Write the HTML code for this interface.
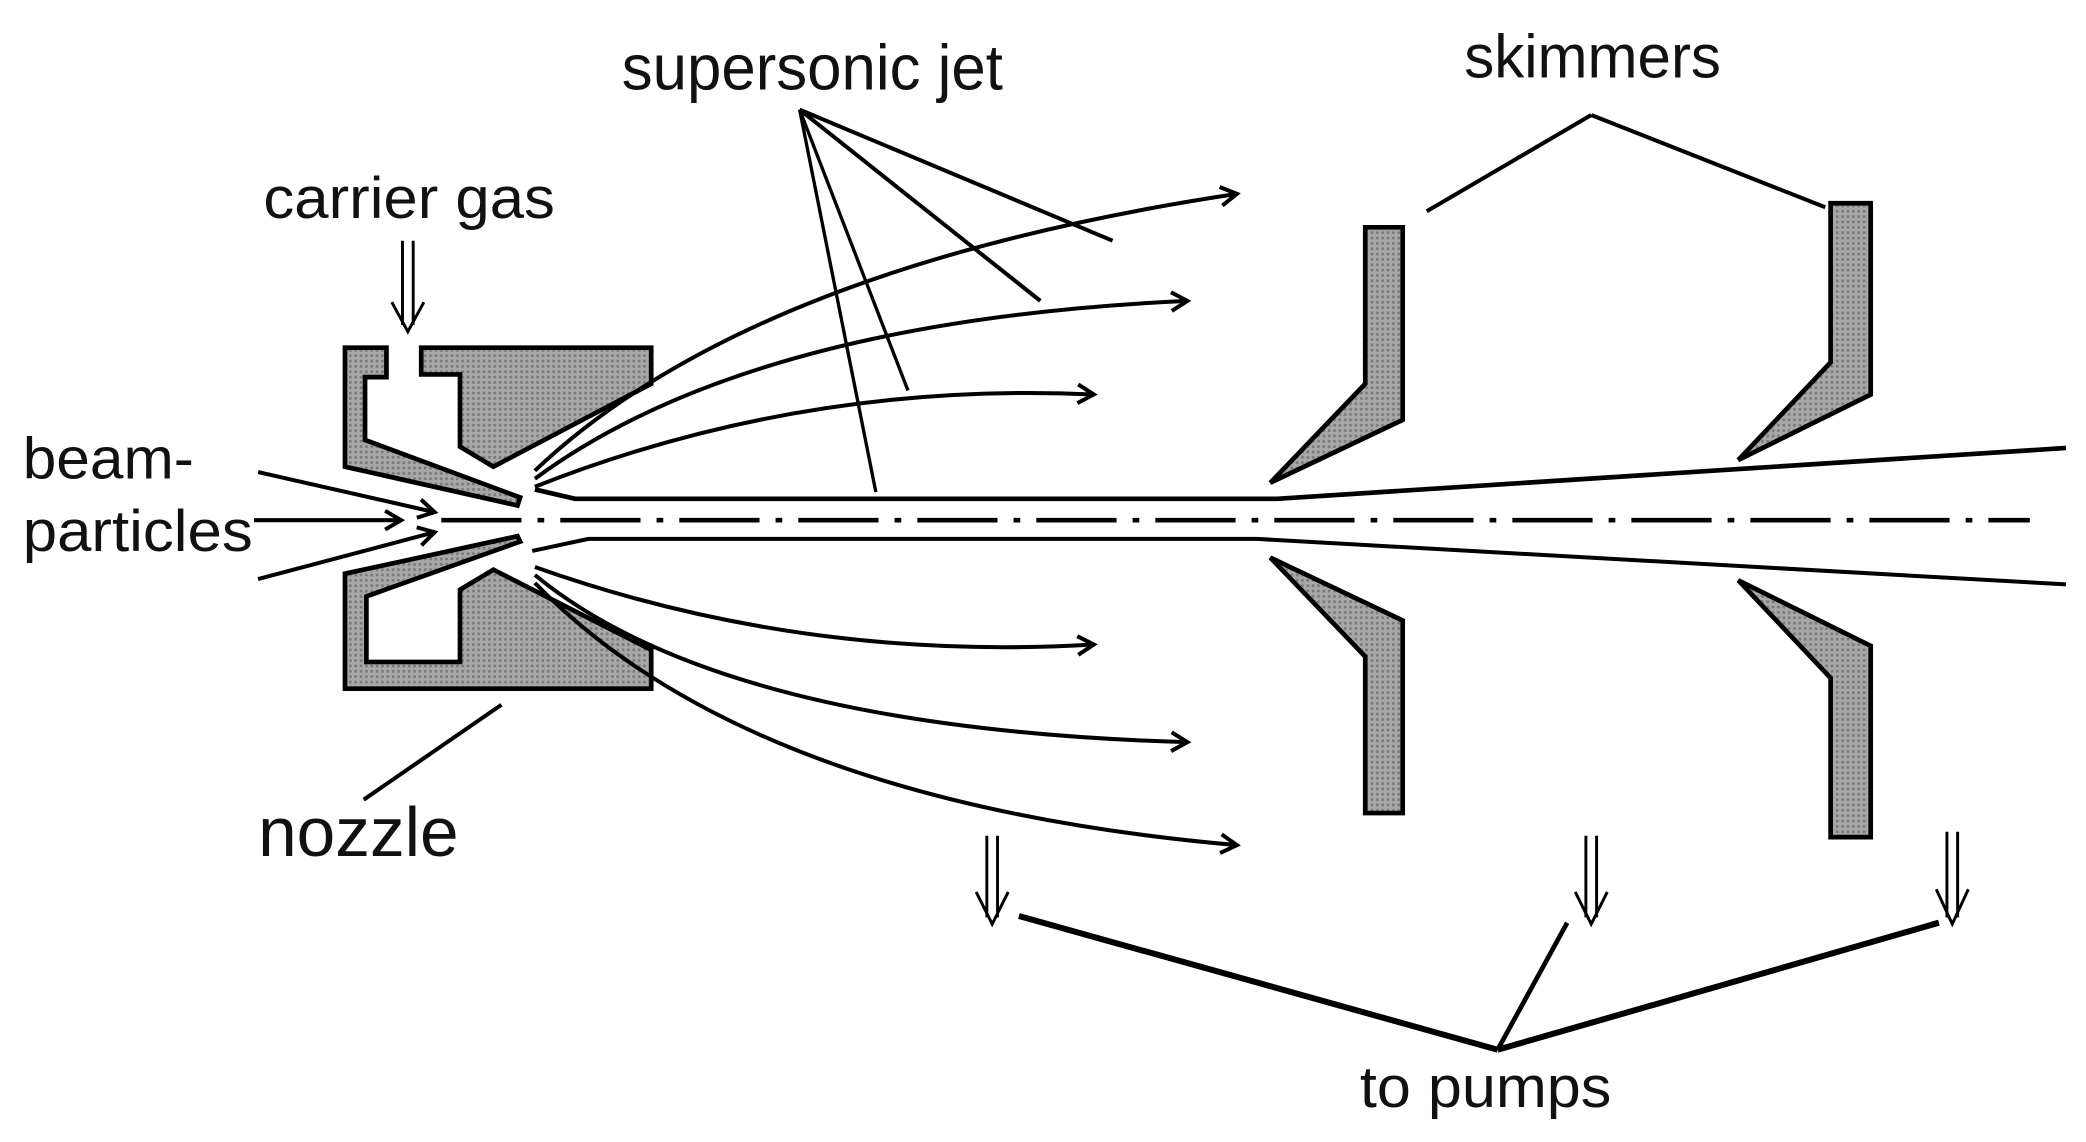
<!DOCTYPE html>
<html><head><meta charset="utf-8"><style>
html,body{margin:0;padding:0;background:#fff;}
svg{display:block;}
text{font-family:"Liberation Sans Narrow","Liberation Sans",sans-serif;fill:#111;}
</style></head><body>
<svg width="2086" height="1142" viewBox="0 0 1560 854" preserveAspectRatio="none" xmlns="http://www.w3.org/2000/svg">
<defs>
<pattern id="dots" width="4" height="4" patternUnits="userSpaceOnUse">
<rect width="4" height="4" fill="#a8a8a8"/><rect x="1" y="1" width="2" height="2" fill="#7a7a7a"/>
</pattern>
<marker id="ah" markerWidth="18" markerHeight="18" refX="15" refY="9" orient="auto" markerUnits="userSpaceOnUse">
<path d="M3,2 L15,9 L3,16" fill="none" stroke="#000" stroke-width="3"/>
</marker>
</defs>
<g stroke="#000" stroke-width="3.5" fill="url(#dots)" stroke-linejoin="miter">
<polygon points="258,260 289,260 289,282 273,282 273,329 389,372 387,378 258,349"/>
<polygon points="315,260 487,260 487,287 369,349 344,334 344,280 315,280"/>
<polygon points="258,515 487,515 487,486 369,426 344,441 344,495 274,495 274,446 389,405 387,401 258,429"/>
<polygon points="1021,170 1049,170 1049,314 950,361 1021,287"/>
<polygon points="1021,608 1049,608 1049,464 950,417 1021,491"/>
<polygon points="1369,152 1399,152 1399,295 1300,344 1369,271"/>
<polygon points="1369,626 1399,626 1399,483 1300,434 1369,507"/>
</g>
<g stroke="#000" fill="none">
<polyline points="400,366 430,373 955,373 1545,335" stroke-width="3.5"/>
<polyline points="398,412 440,403 940,403 1545,437" stroke-width="3"/>
<line x1="330" y1="389" x2="1518" y2="389" stroke-width="3.5" stroke-dasharray="60,12,5,12"/>
<line x1="193" y1="353" x2="325" y2="383" stroke-width="3" marker-end="url(#ah)"/>
<line x1="190" y1="389" x2="300" y2="389" stroke-width="3" marker-end="url(#ah)"/>
<line x1="193" y1="433" x2="325" y2="398" stroke-width="3" marker-end="url(#ah)"/>
<path d="M400,352 Q560,200 925,145" stroke-width="3" marker-end="url(#ah)"/>
<path d="M400,358 Q560,240 888,225" stroke-width="3" marker-end="url(#ah)"/>
<path d="M400,364 Q600,285 818,295" stroke-width="3" marker-end="url(#ah)"/>
<path d="M400,424 Q600,495 818,482" stroke-width="3" marker-end="url(#ah)"/>
<path d="M400,430 Q540,545 888,555" stroke-width="3" marker-end="url(#ah)"/>
<path d="M400,436 Q560,600 925,632" stroke-width="3" marker-end="url(#ah)"/>
<line x1="598" y1="82" x2="832" y2="180" stroke-width="3"/>
<line x1="598" y1="82" x2="778" y2="225" stroke-width="3"/>
<line x1="598" y1="82" x2="679" y2="292" stroke-width="2.5"/>
<line x1="598" y1="82" x2="655" y2="368" stroke-width="2.5"/>
<line x1="1190" y1="86" x2="1067" y2="158" stroke-width="3"/>
<line x1="1190" y1="86" x2="1365" y2="155" stroke-width="3"/>
<line x1="375" y1="527" x2="272" y2="598" stroke-width="3"/>
<line x1="1120" y1="785" x2="762" y2="685" stroke-width="4.5"/>
<line x1="1120" y1="785" x2="1172" y2="690" stroke-width="3.5"/>
<line x1="1120" y1="785" x2="1450" y2="690" stroke-width="4.5"/>
</g>
<g stroke="#000" fill="none" stroke-width="2.2">
<path d="M301,180 V243 M309,180 V243 M293,226 L305,248 L317,226"/>
<path d="M738,625 V686 M746,625 V686 M730,667 L742,691 L754,667"/>
<path d="M1186,625 V686 M1194,625 V686 M1178,667 L1190,691 L1202,667"/>
<path d="M1456,622 V686 M1464,622 V686 M1448,665 L1460,691 L1472,665"/>
</g>
<text x="465" y="67" font-size="48" textLength="285" lengthAdjust="spacingAndGlyphs">supersonic jet</text>
<text x="1095" y="58" font-size="46" textLength="192" lengthAdjust="spacingAndGlyphs">skimmers</text>
<text x="197" y="163" font-size="44" textLength="218" lengthAdjust="spacingAndGlyphs">carrier gas</text>
<text x="17" y="358" font-size="44" textLength="128" lengthAdjust="spacingAndGlyphs">beam-</text>
<text x="17" y="412" font-size="44" textLength="172" lengthAdjust="spacingAndGlyphs">particles</text>
<text x="193" y="640" font-size="52" textLength="150" lengthAdjust="spacingAndGlyphs">nozzle</text>
<text x="1017" y="828" font-size="44" textLength="188" lengthAdjust="spacingAndGlyphs">to pumps</text>
</svg>
</body></html>
